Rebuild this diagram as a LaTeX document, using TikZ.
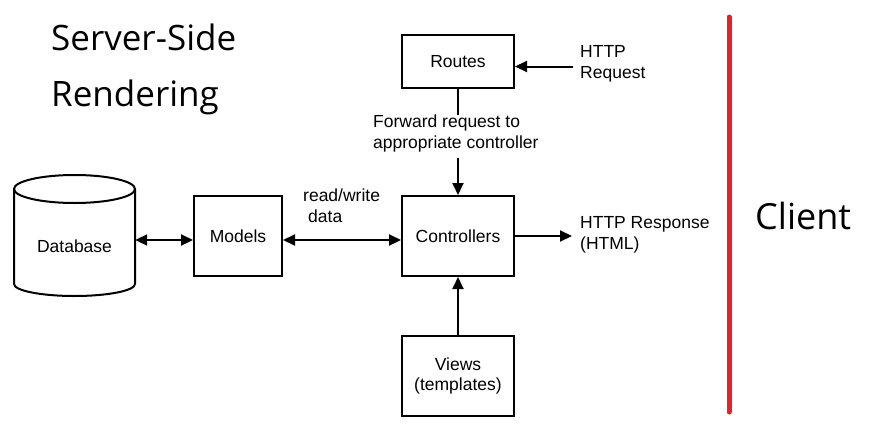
\documentclass[tikz,border=0pt]{standalone}
\usepackage{fontspec}
\setmainfont{Liberation Sans}
\newfontfamily\titlefont{Open Sans}
\usetikzlibrary{arrows.meta}
\definecolor{divred}{HTML}{E8202A}
\begin{document}
\begin{tikzpicture}[x=1pt,y=-1pt,
  every node/.style={font=\fontsize{17.5}{20.5}\selectfont},
  box/.style={draw,line width=2pt,minimum width=112pt,minimum height=80pt,align=center,inner sep=0pt},
  conn/.style={line width=2pt},
  arr/.style={conn,-{Triangle[length=12pt,width=11pt]}},
  dblarr/.style={conn,{Triangle[length=12pt,width=11pt]}-{Triangle[length=12pt,width=11pt]}},
  lbl/.style={anchor=north west,inner sep=0pt,align=left},
  title/.style={font=\titlefont\fontsize{35}{56}\selectfont,anchor=north west,inner sep=0pt,align=left}]
\useasboundingbox (0,0) rectangle (871,426);
\fill[white] (0,0) rectangle (871,426);

% title
\node[title] (ttl) at (51,23.5) {Server-Side\\Rendering};
\node[font=\titlefont\fontsize{36}{40}\selectfont,anchor=base west,inner sep=0pt] (client) at (755,229) {Client};

% divider
\draw[divred,line width=5pt,line cap=round] (729,17) -- (729,412);

% database cylinder
\draw[line width=2pt,fill=white] (14,189) -- (14,284) arc[start angle=180,end angle=360,x radius=60.5pt,y radius=12pt] -- (135,189);
\draw[line width=2pt] (74.5,189) ellipse [x radius=60.5pt, y radius=14pt];
\node[minimum width=121pt,minimum height=100pt,inner sep=0pt] (db) at (74.5,240) {};
\node (dbtext) at (74.5,246) {Database};

% boxes
\node[box,minimum height=53pt] (routes) at (458,61.5) {Routes};
\node[box] (ctrl) at (458,236) {Controllers};
\node[box,minimum width=88pt] (models) at (238,236) {Models};
\node[box] (views) at (458,376) {Views\\(templates)};

% labels
\node[lbl] (req) at (580,45.5) {HTTP\\Request};
\node[lbl] (fwd) at (373,115) {Forward request to\\appropriate controller};
\node[lbl] (rw) at (303,189) {read/write\\\hspace*{5pt}data};
\node[lbl] (resp) at (580,216.5) {HTTP Response\\(HTML)};

\coordinate (reqend) at (573,66.5);
\coordinate (f1) at (458,115);
\coordinate (f2) at (458,158);
\coordinate (respend) at (572,236);

% connectors
\draw[arr] (reqend) -- (reqend -| routes.east);
\draw[conn] (routes.south) -- (f1);
\draw[arr] (f2) -- (ctrl.north);
\draw[dblarr] (db.east) -- (db.east -| models.west);
\draw[dblarr] ([yshift=-4pt]models.east) -- ([yshift=-4pt]ctrl.west);
\draw[arr] (ctrl.east) -- (respend);
\draw[arr] (views.north) -- (ctrl.south);
\end{tikzpicture}
\end{document}
